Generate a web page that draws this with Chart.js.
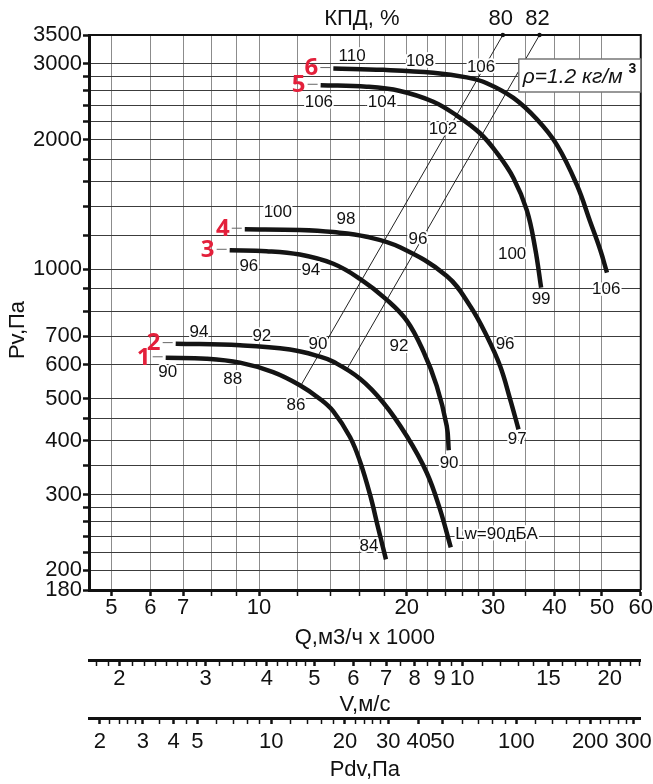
<!DOCTYPE html>
<html lang="ru">
<head>
<meta charset="UTF-8">
<title>Характеристика вентилятора</title>
<script src="https://cdn.jsdelivr.net/npm/chart.js"></script>
<style>
  html, body { margin: 0; padding: 0; background: #fff; }
</style>
</head>
<body>
<canvas id="chart" width="653" height="784"></canvas>
<script>
// кривые вентилятора: [Q тыс. м3/ч, Pv Па]
const curve1 = [[6.45,623],[7.81,620],[9.14,607],[10.68,577],[12.11,538],[13.31,500],[14.17,468],[15.32,408],[16.06,358],[16.83,300],[17.5,250],[18.14,212]];
const curve2 = [[6.76,672],[9.14,666],[11.56,651],[13.31,627],[14.17,610],[16.06,557],[17.92,490],[20.0,410],[21.97,337],[23.38,277],[24.59,226]];
const curve3 = [[8.71,1107],[10.35,1102],[12.11,1082],[14.17,1030],[16.06,950],[18.2,850],[20.0,760],[21.62,645],[23.02,536],[24.13,433],[24.36,380]];
const curve4 = [[9.35,1239],[12.11,1234],[14.17,1220],[16.57,1190],[19.38,1125],[24.13,965],[26.93,822],[29.12,700],[31.0,596],[32.5,499],[33.8,425]];
const curve5 = [[13.35,2675],[16.57,2655],[19.38,2595],[22.66,2450],[25.3,2275],[28.21,2070],[30.51,1866],[33.0,1630],[35.15,1370],[36.54,1120],[37.58,907]];
const curve6 = [[14.17,2925],[17.92,2905],[22.66,2860],[26.5,2790],[29.12,2705],[33.0,2500],[36.84,2230],[40.47,1945],[44.45,1570],[47.32,1290],[49.6,1110],[51.2,982]];
const curveNames = ['1', '2', '3', '4', '5', '6'];

// линии КПД
const eff80 = [[12.2, 540], [31.4, 3500]];
const eff82 = [[15.1, 586], [37.3, 3500]];

// подписи уровней шума вдоль кривых: [Q, Pv, текст]
const notes1 = [[6.51,577,'90'],[8.84,555,'88'],[11.89,483,'86'],[16.75,227,'84']];
const notes2 = [[7.54,714,'94'],[10.13,699,'92'],[13.18,670,'90']];
const notes3 = [[9.53,1016,'96'],[12.75,995,'94'],[19.28,662,'92'],[24.4,354,'90']];
const notes4 = [[10.92,1356,'100'],[15.04,1307,'98'],[21.09,1174,'96'],[31.74,670,'96'],[33.58,403,'97']];
const notes5 = [[13.24,2442,'106'],[17.8,2442,'104'],[23.71,2114,'102'],[32.8,1083,'100'],[37.58,852,'99']];
const notes6 = [[15.47,3124,'110'],[21.29,3041,'108'],[28.35,2945,'106'],[51.03,899,'106']];
const lwNote = [25.1, 242, 'Lw=90дБА'];

// шкалы
const qMin = 4.5, qMax = 60;
const pMin = 180, pMax = 3500;
const vMin = 1.735, vMax = 23.13;
const pdvMin = 1.808, pdvMax = 321.4;
const qGrid = [5,6,7,8,9,10,12,14,16,18,20,22,24,26,28,30,35,40,45,50,60];
const qLabels = [5,6,7,10,20,30,40,50,60];
const pGrid = [180,200,220,240,260,280,300,350,400,450,500,600,700,800,900,1000,1200,1400,1600,1800,2000,2200,2400,2600,2800,3000,3500];
const pLabels = [180,200,300,400,500,600,700,1000,2000,3000,3500];
const vTicks = [1.8,1.9,2,2.125,2.25,2.375,2.5,2.625,2.75,2.875,3,3.2,3.4,3.6,3.8,4,4.2,4.4,4.6,4.8,5,5.5,6,6.5,7,7.5,8,8.5,9,9.5,10,11,12,13,14,15,16,17,18,19,20,21,22,23];
const vLabels = [2,3,4,5,6,7,8,9,10,15,20];
const pdvTicks = [2,2.2,2.4,2.6,2.8,3,3.5,4,4.5,5,6,7,8,9,10,12,14,16,18,20,22,24,26,28,30,40,50,60,70,80,90,100,120,140,160,180,200,220,240,260,280,300];
const pdvLabels = [2,3,4,5,10,20,30,40,50,100,200,300];

const FONT = '"Liberation Sans", Arial, sans-serif';
Chart.defaults.font.family = FONT;
Chart.defaults.color = '#111';

const toPts = arr => arr.map(([q, p]) => ({ x: q, y: p }));

const datasets = [curve1, curve2, curve3, curve4, curve5, curve6].map((c, i) => ({
  label: curveNames[i],
  data: toPts(c),
  borderColor: '#141414',
  borderWidth: 4.5,
  pointRadius: 0,
  tension: 0.4
}));
[eff80, eff82].forEach(e => datasets.push({
  label: 'eff',
  data: toPts(e),
  borderColor: '#222',
  borderWidth: 1,
  pointRadius: 0
}));

function setTicks(list) {
  return s => { s.ticks = list.map(v => ({ value: v })); };
}

function halo(ctx, text, x, y, font, align) {
  ctx.font = font;
  ctx.textAlign = align || 'center';
  ctx.textBaseline = 'middle';
  ctx.lineJoin = 'round';
  ctx.strokeStyle = '#fff';
  ctx.lineWidth = 4;
  ctx.strokeText(text, x, y);
  ctx.fillStyle = '#111';
  ctx.fillText(text, x, y);
}

const decor = {
  id: 'decor',
  beforeDatasetsDraw(chart) {
    const { ctx, chartArea: a } = chart;
    ctx.save();
    ctx.strokeStyle = '#111';
    ctx.lineWidth = 2;
    ctx.beginPath();
    ctx.moveTo(a.left, a.top);
    ctx.lineTo(a.right, a.top);
    ctx.lineTo(a.right, a.bottom);
    ctx.stroke();
    ctx.restore();
  },
  afterDatasetsDraw(chart) {
    const { ctx, chartArea: a, scales: { x, y } } = chart;
    ctx.save();
    const noteFont = '17px ' + FONT;
    [notes1, notes2, notes3, notes4, notes5, notes6].forEach(list => {
      list.forEach(([q, p, t]) => halo(ctx, t, x.getPixelForValue(q), y.getPixelForValue(p), noteFont));
    });
    halo(ctx, lwNote[2], x.getPixelForValue(lwNote[0]), y.getPixelForValue(lwNote[1]), noteFont, 'left');

    // номера кривых
    [curve1, curve2, curve3, curve4, curve5, curve6].forEach((c, i) => {
      const sx = x.getPixelForValue(c[0][0]);
      const sy = y.getPixelForValue(c[0][1]);
      ctx.strokeStyle = '#666';
      ctx.lineWidth = 1;
      ctx.beginPath();
      ctx.moveTo(sx - 13, sy - 1);
      ctx.lineTo(sx - 3, sy - 1);
      ctx.stroke();
      ctx.font = 'bold 24px "Open Sans", "Noto Sans", sans-serif';
      ctx.textAlign = 'center';
      ctx.textBaseline = 'middle';
      ctx.fillStyle = '#e3203b';
      ctx.fillText(curveNames[i], sx - 22, sy);
    });

    // подписи сверху
    ctx.fillStyle = '#111';
    ctx.textBaseline = 'middle';
    ctx.textAlign = 'center';
    ctx.font = '22px ' + FONT;
    ctx.fillText('КПД, %', (a.left + a.right) / 2 - 3, a.top - 16);
    [[eff80, '80'], [eff82, '82']].forEach(([e, t]) => {
      const last = e[e.length - 1];
      const px = x.getPixelForValue(last[0]);
      ctx.fillText(t, px - 2, a.top - 16);
      ctx.beginPath();
      ctx.arc(px, a.top, 2.2, 0, Math.PI * 2);
      ctx.fill();
    });

    // плотность
    const bx = a.right - 122, by = a.top + 24;
    ctx.fillStyle = '#fff';
    ctx.fillRect(bx, by, 122, 33);
    ctx.strokeStyle = '#777';
    ctx.lineWidth = 1.5;
    ctx.strokeRect(bx, by, 122, 33);
    ctx.fillStyle = '#111';
    ctx.textAlign = 'left';
    ctx.font = 'italic 21px ' + FONT;
    const dens = 'ρ=1.2 кг/м';
    ctx.fillText(dens, bx + 4, by + 18);
    const w = ctx.measureText(dens).width;
    ctx.font = 'bold 14px ' + FONT;
    ctx.fillText('3', bx + 10 + w, by + 10);

    // подпись оси Y
    ctx.save();
    ctx.translate(18, 330);
    ctx.rotate(-Math.PI / 2);
    ctx.textAlign = 'center';
    ctx.font = '22px ' + FONT;
    ctx.fillText('Pv,Па', 0, 0);
    ctx.restore();
    ctx.restore();
  }
};

const bottomAxis = (weight, min, max, list, labels, height, title, lineH, titlePad, onArea) => ({
  type: 'logarithmic',
  position: 'bottom',
  weight: weight,
  min: min,
  max: max,
  afterBuildTicks: setTicks(list),
  afterFit: s => { s.height = height; },
  ticks: {
    autoSkip: false,
    maxRotation: 0,
    padding: 0,
    font: { size: 22, lineHeight: lineH },
    callback: v => labels.includes(v) ? String(v) : ''
  },
  grid: {
    drawOnChartArea: onArea,
    color: '#8c8c8c',
    lineWidth: 1,
    tickLength: 6,
    tickColor: '#111',
    tickWidth: ctx => labels.includes(ctx.tick && ctx.tick.value) ? 2.5 : 1.5
  },
  border: { color: '#111', width: 3 },
  title: { display: true, text: title, font: { size: 22, lineHeight: 1.1 }, padding: { top: 0, bottom: titlePad } }
});

new Chart(document.getElementById('chart'), {
  type: 'line',
  data: { datasets: datasets },
  options: {
    responsive: false,
    animation: false,
    layout: { padding: { top: 35, right: 12, left: 0, bottom: 0 } },
    plugins: { legend: { display: false }, tooltip: { enabled: false } },
    scales: {
      x: bottomAxis(0, qMin, qMax, qGrid, qLabels, 70, 'Q,м3/ч x 1000', 1.1, 10, true),
      v: bottomAxis(1, vMin, vMax, vTicks, vLabels, 58, 'V,м/с', 1.2, 1, false),
      pdv: bottomAxis(2, pdvMin, pdvMax, pdvTicks, pdvLabels, 66, 'Pdv,Па', 1.6, 2, false),
      y: {
        type: 'logarithmic',
        position: 'left',
        min: pMin,
        max: pMax,
        afterBuildTicks: setTicks(pGrid),
        afterFit: s => { s.width = 89; },
        ticks: {
          autoSkip: false,
          padding: 1,
          font: { size: 22, lineHeight: 1 },
          callback: v => pLabels.includes(v) ? String(v) : ''
        },
        grid: { color: '#3c3c3c', lineWidth: 1, tickLength: 6, tickColor: '#111', tickWidth: 2.5 },
        border: { color: '#111', width: 3 }
      }
    }
  },
  plugins: [decor]
});
</script>
</body>
</html>
